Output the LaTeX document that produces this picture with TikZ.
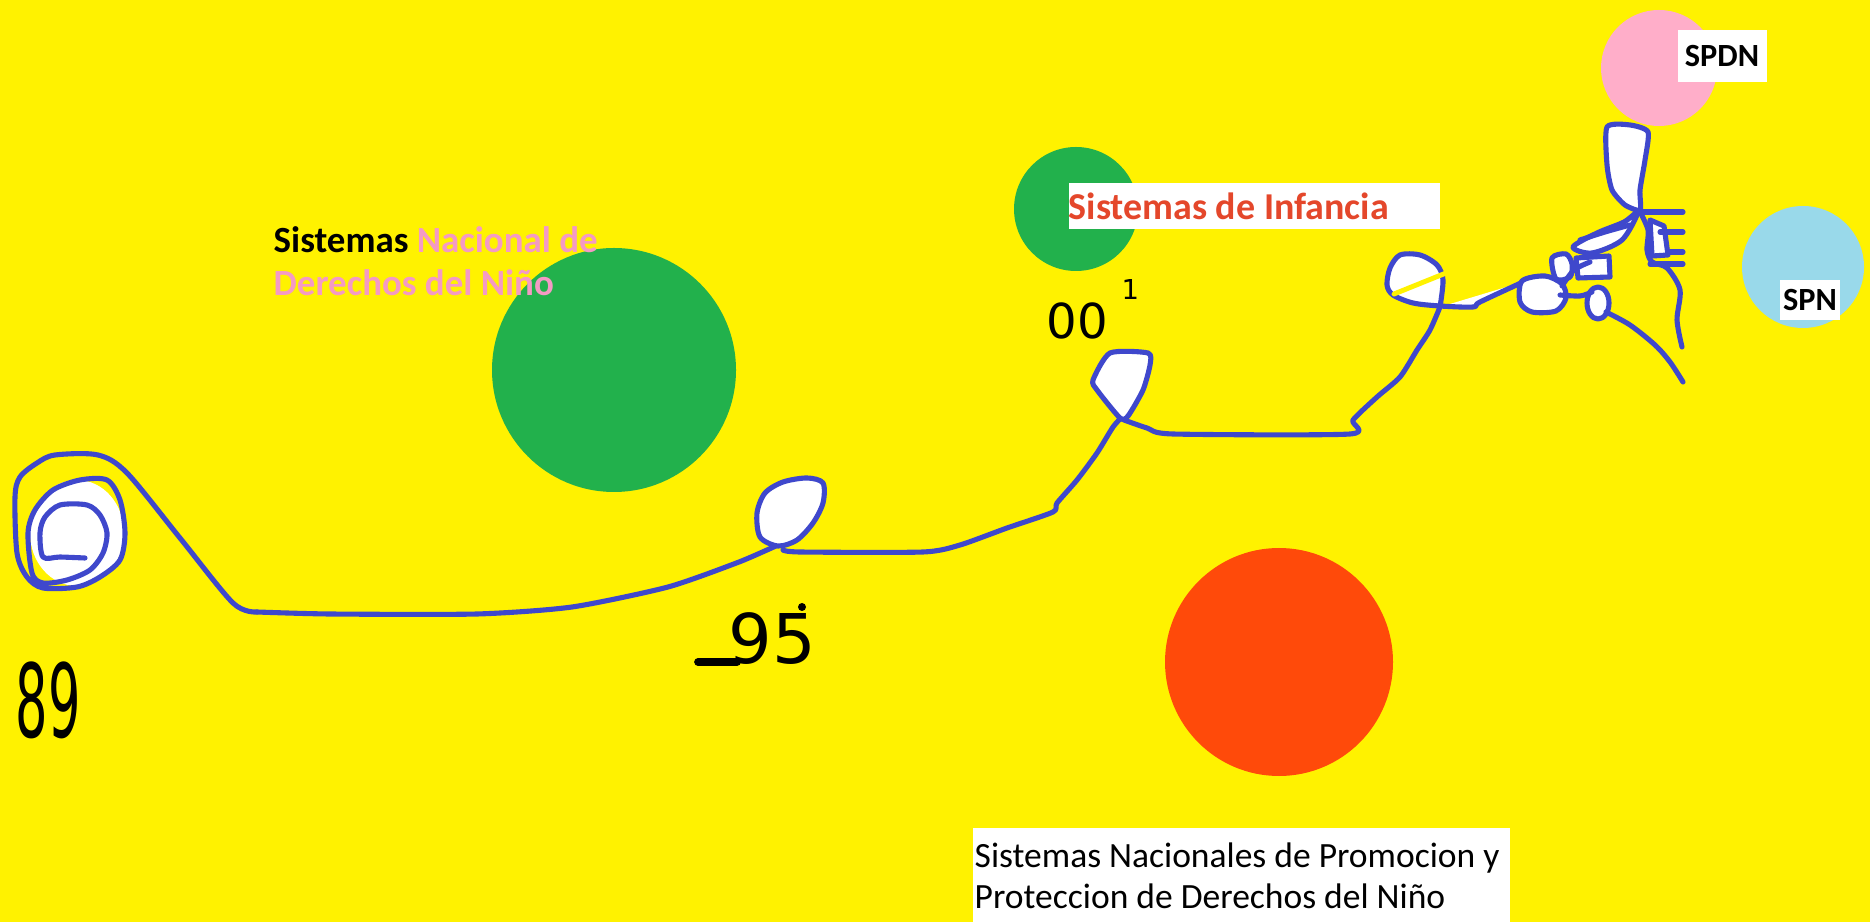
\documentclass[tikz,border=0pt]{standalone}
\usepackage{fontspec}
\setmainfont{Carlito}
\newfontfamily\handfont{DejaVu Sans}
\definecolor{paintyellow}{HTML}{FFF200}
\definecolor{paintgreen}{HTML}{22B14C}
\definecolor{paintred}{HTML}{FF4A0A}
\definecolor{paintpink}{HTML}{FFAEC9}
\definecolor{painttext}{HTML}{F49AC4}
\definecolor{paintsky}{HTML}{99D9EA}
\definecolor{paintblue}{HTML}{3F48CC}
\definecolor{infred}{HTML}{E4472B}

\begin{document}
\begin{tikzpicture}[line cap=round,line join=round,x=0.01cm,y=-0.01cm,
  pen/.style={draw=paintblue,line width=1.45pt},
  hole/.style={fill=white},
  ink/.style={draw=black,line width=2.2pt},
  lbl/.style={inner sep=0pt,font=\bfseries\fontsize{10.2}{12.2}\selectfont},
  tag/.style={fill=white,inner sep=0pt,font=\bfseries\fontsize{9.2}{11}\selectfont},
  year/.style={inner sep=0pt,text=black,font=\handfont}]
\useasboundingbox (0,0) rectangle (1870,922);
\fill[paintyellow] (0,0) rectangle (1870,922);
\fill[paintgreen] (614,370) circle (122);
\fill[paintgreen] (1076,209) circle (62);
\fill[paintred] (1279,662) circle (114);
\fill[paintpink] (1659,68) circle (58);
\fill[paintsky] (1803,267) circle (61);
\fill[hole] (77,533) ellipse (47 and 53);
\draw[pen] plot[smooth,tension=0.5] coordinates {(85,558) (60,557) (43,557) (40,533) (45,517) (60,505) (87,505) (100,515) (107,533) (103,553) (90,570) (67,580) (43,583) (32,573) (28,533) (35,510) (53,490) (80,480) (107,480) (120,500) (125,533) (120,560) (100,577) (77,587) (43,588) (27,577) (17,553) (15,497) (20,477) (37,463) (55,455) (98,455) (127,473) (180,538) (233,603) (257,612)};
\draw[pen] plot[smooth,tension=0.4] coordinates {(257,612) (330,614) (477,614) (572,607) (668,587) (739,562) (778,545)};
\filldraw[pen,hole] plot[smooth cycle,tension=0.5] coordinates {(778,546) (760,537) (757,513) (765,493) (783,482) (807,478) (823,483) (823,503) (813,523) (797,540)};
\draw[pen] plot[smooth,tension=0.4] coordinates {(783,550) (800,552) (923,552) (960,545) (1007,528) (1053,512) (1057,503) (1077,480) (1097,453) (1113,427) (1122,417)};
\filldraw[pen,hole] plot[smooth cycle,tension=0.4] coordinates {(1120,418) (1097,390) (1093,380) (1110,353) (1148,353) (1150,365) (1143,390) (1128,416)};
\draw[pen] plot[smooth,tension=0.4] coordinates {(1124,420) (1147,428) (1173,434) (1350,434) (1353,420) (1377,397) (1400,377) (1417,350) (1430,330) (1440,307)};
\filldraw[pen,hole] plot[smooth,tension=0.5] coordinates {(1440,307) (1443,280) (1437,265) (1420,255) (1400,255) (1390,268) (1387,285) (1393,295) (1413,303) (1440,306) (1473,307) (1480,302) (1523,282)};
\draw[paintyellow,line width=1.4pt] (1394,294) -- (1446,273);
\filldraw[pen,hole] plot[smooth cycle,tension=0.5] coordinates {(1522,281) (1545,276) (1562,284) (1566,298) (1556,311) (1532,312) (1520,302)};
\filldraw[pen,hole] plot[smooth cycle,tension=0.5] coordinates {(1552,258) (1566,254) (1572,264) (1570,277) (1556,279)};
\filldraw[pen,hole] (1576,258) -- (1609,256) -- (1610,277) -- (1578,278) -- cycle;
\filldraw[pen,hole] plot[smooth cycle,tension=0.5] coordinates {(1573,247) (1597,233) (1624,222) (1638,212) (1622,240) (1592,253)};
\draw[pen] plot[smooth,tension=0.5] coordinates {(1580,240) (1605,232) (1630,225)};
\filldraw[pen,hole] (1598,303) ellipse (11 and 16);
\draw[pen] plot[smooth,tension=0.5] coordinates {(1562,286) (1574,270) (1590,262)};
\draw[pen] plot[smooth,tension=0.5] coordinates {(1560,295) (1580,296) (1592,292)};
\draw[pen] plot[smooth,tension=0.5] coordinates {(1606,312) (1630,325) (1655,345) (1670,362) (1683,382)};
\filldraw[pen,hole] plot[smooth cycle,tension=0.4] coordinates {(1607,127) (1630,125) (1648,132) (1645,160) (1640,190) (1640,210) (1625,205) (1612,190) (1607,165)};
\filldraw[pen,hole] (1650,220) -- (1664,226) -- (1668,255) -- (1652,256) -- cycle;
\draw[pen] (1637,212) -- (1683,212);
\draw[pen] (1660,232) -- (1683,232);
\draw[pen] (1670,252) -- (1683,252);
\draw[pen] (1650,264) -- (1683,264);
\draw[pen] plot[smooth,tension=0.5] coordinates {(1640,212) (1648,230) (1647,250) (1652,262) (1667,268) (1680,290) (1677,320) (1682,347)};
\node (natl) [lbl,anchor=north west,align=left,font=\bfseries\fontsize{10.5}{12.3}\selectfont] at (273,226) {Sistemas \textcolor{painttext}{Nacional de}\\\textcolor{painttext}{Derechos del Niño}};
\node (inf) [lbl,fill=white,anchor=west,text width=3.71cm,minimum height=0.45cm,align=left,text=infred,font=\bfseries\fontsize{10.8}{12.5}\selectfont] at (1068,206) {\spaceskip=0pt Sistemas de Infancia};
\node (spdn) [tag,minimum width=0.89cm,minimum height=0.52cm] at (1722,56) {SPDN};
\node (spn) [tag,minimum width=0.60cm,minimum height=0.40cm] at (1810,300) {SPN};
\node (snpp) [fill=white,anchor=north west,text width=5.33cm,inner xsep=0.02cm,inner ysep=0pt,minimum height=0.96cm,align=left,font=\fontsize{10.1}{11.7}\selectfont] at (972,827) {\spaceskip=0pt Sistemas Nacionales de Promocion y\\Proteccion de Derechos del Niño};
\node (y89) [year,font=\handfont\fontsize{29}{29}\selectfont,anchor=south west] at (15,740) {\scalebox{0.5}[1]{89}};
\node (y95) [year,font=\handfont\fontsize{19.5}{20}\selectfont,anchor=south west] at (728,665) {95};
\draw[ink] (698,662) -- (737,662);
\fill (802,607) circle (4);
\node (y00) [year,font=\handfont\fontsize{13.7}{14}\selectfont,anchor=south west] at (1046,340) {00};
\node (y01) [year,font=\handfont\fontsize{7.8}{8}\selectfont,anchor=south west] at (1121,300) {1};
\end{tikzpicture}
\end{document}
